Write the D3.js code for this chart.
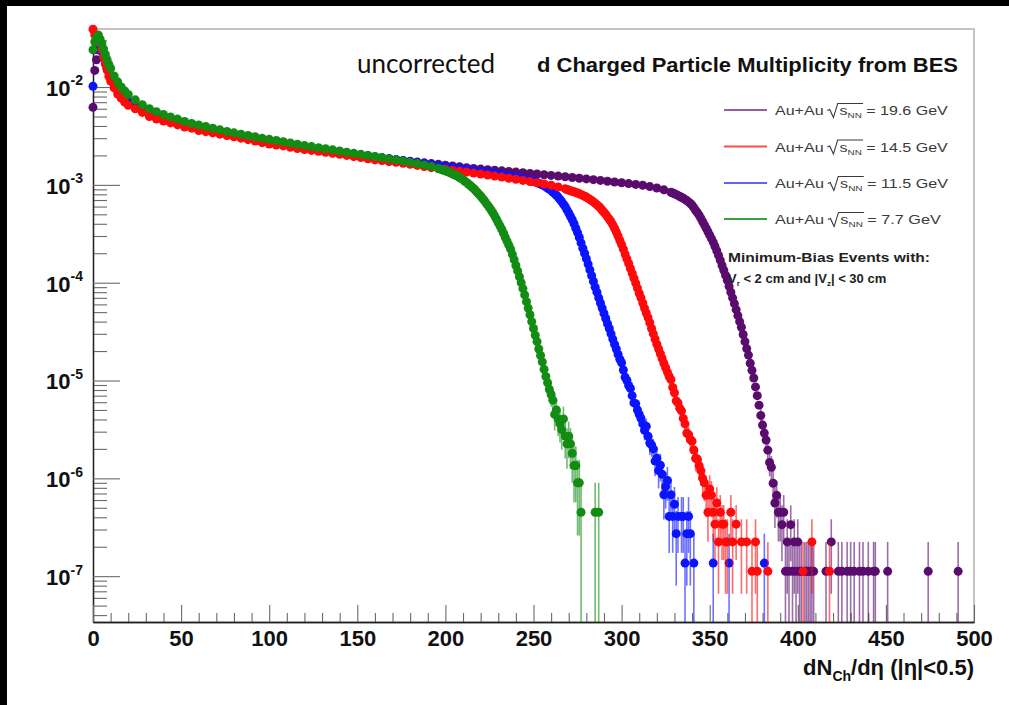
<!DOCTYPE html>
<html>
<head>
<meta charset="utf-8">
<script src="https://cdn.jsdelivr.net/npm/d3@7"></script>
<style>
  html, body { margin: 0; padding: 0; background: #000; }
  svg { display: block; }
</style>
</head>
<body>
<svg id="chart" width="1009" height="705"></svg>
<script>
// ---------------- data ----------------
const xMajorTicks = [0, 50, 100, 150, 200, 250, 300, 350, 400, 450, 500];
const yDecades = [1e-7, 1e-6, 1e-5, 1e-4, 1e-3, 1e-2];
const energies = ["19.6", "14.5", "11.5", "7.7"];

// Au+Au 19.6 GeV : coarse bins over the plateau, unit bins over the fall-off, low-count tail with errors
const purpleX = [0,1,2,3,4,6,8,10,12,14,16,20,24,28,32,36,40,44,48,52,56,60,64,68,72,76,80,84,88,92,96,100,104,108,112,116,120,124,128,132,136,140,144,148,152,156,160,164,168,172,176,180,184,188,192,196,200,204,208,212,216,220,224,228,232,236,240,244,248,252,256,260,264,268,272,276,280,284,288,292,296,300,304,308,312,316,320,324,328];
const purpleY = [6.2e-3,1.48e-2,1.9e-2,2.4e-2,2.4e-2,2.0e-2,1.55e-2,1.25e-2,1.07e-2,9.4e-3,8.5e-3,7.2e-3,6.4e-3,5.8e-3,5.4e-3,5.0e-3,4.75e-3,4.5e-3,4.3e-3,4.1e-3,3.95e-3,3.8e-3,3.65e-3,3.55e-3,3.45e-3,3.35e-3,3.25e-3,3.15e-3,3.05e-3,2.96e-3,2.88e-3,2.8e-3,2.72e-3,2.65e-3,2.58e-3,2.5e-3,2.44e-3,2.38e-3,2.32e-3,2.27e-3,2.22e-3,2.17e-3,2.12e-3,2.07e-3,2.02e-3,1.98e-3,1.93e-3,1.89e-3,1.85e-3,1.81e-3,1.77e-3,1.74e-3,1.71e-3,1.68e-3,1.65e-3,1.62e-3,1.59e-3,1.56e-3,1.53e-3,1.5e-3,1.47e-3,1.45e-3,1.43e-3,1.41e-3,1.39e-3,1.37e-3,1.35e-3,1.33e-3,1.31e-3,1.29e-3,1.27e-3,1.25e-3,1.23e-3,1.21e-3,1.19e-3,1.17e-3,1.15e-3,1.13e-3,1.11e-3,1.09e-3,1.07e-3,1.05e-3,1.03e-3,1.01e-3,9.9e-4,9.6e-4,9.3e-4,8.9e-4,8.4e-4];
const purpleFallStart = 329;
const purpleFall = [8.25e-4,8.1e-4,7.95e-4,7.8e-4,7.6e-4,7.45e-4,7.3e-4,7.1e-4,6.9e-4,6.7e-4,6.45e-4,6.2e-4,5.85e-4,5.5e-4,5.2e-4,4.9e-4,4.55e-4,4.2e-4,3.9e-4,3.6e-4,3.32e-4,3.06e-4,2.82e-4,2.6e-4,2.35e-4,2.12e-4,1.9e-4,1.7e-4,1.5e-4,1.34e-4,1.19e-4,1.06e-4,9.2e-5,8.0e-5,7.0e-5,6.1e-5,5.3e-5,4.6e-5,4.0e-5,3.5e-5,2.95e-5,2.5e-5,2.12e-5,1.82e-5,1.5e-5,1.27e-5,1.06e-5,8.6e-6,7.0e-6,5.6e-6];
const purpleTailX = [379,380,381,382,383,384,385,386,387,388,389,390,391,392,393,394,395,396,397,398,399,400,401,402,404,405,406,407,408,409,416,419,423,425,428,430,432,435,437,440,443,444,451,474,491];
const purpleTailY = [4.4e-6,3.5e-6,2.9e-6,2.46e-6,1.94e-6,1.45e-6,1.3e-6,8.9e-7,5.6e-7,6.7e-7,4.5e-7,4.5e-7,3.36e-7,4.5e-7,1.12e-7,2.24e-7,1.12e-7,3.36e-7,1.12e-7,2.24e-7,1.12e-7,2.24e-7,1.12e-7,1.12e-7,1.12e-7,1.12e-7,1.12e-7,1.12e-7,1.12e-7,1.12e-7,1.12e-7,2.24e-7,1.12e-7,1.12e-7,1.12e-7,1.12e-7,1.12e-7,1.12e-7,1.12e-7,1.12e-7,1.12e-7,1.12e-7,1.12e-7,1.12e-7,1.12e-7];
const purpleTailErr = [7.0e-7,6.3e-7,5.7e-7,5.2e-7,4.6e-7,4.0e-7,3.9e-7,3.2e-7,2.5e-7,2.74e-7,2.24e-7,2.24e-7,1.94e-7,2.24e-7,1.12e-7,1.58e-7,1.12e-7,1.94e-7,1.12e-7,1.58e-7,1.12e-7,1.58e-7,1.12e-7,1.12e-7,1.12e-7,1.12e-7,1.12e-7,1.12e-7,1.12e-7,1.12e-7,1.12e-7,1.58e-7,1.12e-7,1.12e-7,1.12e-7,1.12e-7,1.12e-7,1.12e-7,1.12e-7,1.12e-7,1.12e-7,1.12e-7,1.12e-7,1.12e-7,1.12e-7];

// Au+Au 14.5 GeV
const redX = [0,1,2,3,4,5,6,7,8,9,10,12,14,16,18,20,24,28,32,36,40,44,48,52,56,60,64,68,72,76,80,84,88,92,96,100,104,108,112,116,120,124,128,132,136,140,144,148,152,156,160,164,168,172,176,180,184,188,192,196,200,204,208,212,216,220,224,228,232,236,240,244,248,252,256,260,264,268];
const redY = [3.9e-2,3.4e-2,3.2e-2,3.0e-2,2.8e-2,2.4e-2,2.03e-2,1.72e-2,1.49e-2,1.29e-2,1.15e-2,9.8e-3,8.5e-3,7.7e-3,7.0e-3,6.5e-3,6.0e-3,5.5e-3,5.0e-3,4.7e-3,4.5e-3,4.3e-3,4.1e-3,3.9e-3,3.8e-3,3.6e-3,3.5e-3,3.4e-3,3.3e-3,3.2e-3,3.1e-3,3.0e-3,2.9e-3,2.8e-3,2.7e-3,2.62e-3,2.55e-3,2.5e-3,2.42e-3,2.35e-3,2.3e-3,2.25e-3,2.2e-3,2.15e-3,2.1e-3,2.05e-3,2.0e-3,1.95e-3,1.9e-3,1.85e-3,1.8e-3,1.77e-3,1.73e-3,1.7e-3,1.66e-3,1.62e-3,1.58e-3,1.54e-3,1.5e-3,1.47e-3,1.44e-3,1.41e-3,1.38e-3,1.35e-3,1.32e-3,1.29e-3,1.26e-3,1.23e-3,1.2e-3,1.17e-3,1.14e-3,1.11e-3,1.08e-3,1.05e-3,1.02e-3,9.9e-4,9.5e-4,9.1e-4];
const redFallStart = 269;
const redFall = [8.95e-4,8.85e-4,8.7e-4,8.6e-4,8.5e-4,8.35e-4,8.25e-4,8.1e-4,7.95e-4,7.8e-4,7.65e-4,7.5e-4,7.3e-4,7.1e-4,6.9e-4,6.7e-4,6.5e-4,6.25e-4,6.05e-4,5.8e-4,5.5e-4,5.25e-4,5.0e-4,4.7e-4,4.45e-4,4.2e-4,3.9e-4,3.6e-4,3.3e-4,3.0e-4,2.7e-4,2.45e-4,2.2e-4,1.95e-4,1.75e-4,1.57e-4,1.4e-4,1.25e-4,1.11e-4,9.9e-5,8.8e-5,7.8e-5,7.0e-5,6.2e-5,5.5e-5,4.9e-5,4.4e-5,3.9e-5,3.4e-5,3.0e-5,2.65e-5,2.35e-5,2.1e-5,1.88e-5,1.68e-5,1.5e-5,1.35e-5,1.22e-5,1.1e-5,1.02e-5,8.5e-6,7.5e-6,6.2e-6,5.9e-6,5.2e-6];
const redTailX = [334,335,336,337,338,339,340,341,342,343,344,345,346,347,348,349,350,351,352,353,354,355,356,357,358,359,360,362,363,365,368,371,374,376,377,383,403,408,418];
const redTailY = [4.9e-6,4.1e-6,3.6e-6,2.9e-6,2.8e-6,2.5e-6,2.4e-6,1.95e-6,1.6e-6,1.57e-6,1.35e-6,1.2e-6,1.0e-6,9.0e-7,6.7e-7,4.5e-7,7.8e-7,6.7e-7,4.5e-7,3.4e-7,5.6e-7,2.24e-7,4.5e-7,3.4e-7,3.4e-7,2.24e-7,2.24e-7,4.5e-7,2.24e-7,3.4e-7,2.24e-7,2.24e-7,1.12e-7,2.24e-7,1.12e-7,1.12e-7,1.12e-7,2.24e-7,1.12e-7];
const redTailErr = [7.4e-7,6.7e-7,6.4e-7,5.7e-7,5.6e-7,5.3e-7,5.2e-7,4.6e-7,4.2e-7,4.2e-7,3.9e-7,3.6e-7,3.4e-7,3.2e-7,2.7e-7,2.25e-7,2.96e-7,2.7e-7,2.25e-7,1.94e-7,2.5e-7,1.58e-7,2.24e-7,1.94e-7,1.94e-7,1.58e-7,1.58e-7,2.24e-7,1.58e-7,1.94e-7,1.58e-7,1.58e-7,1.12e-7,1.58e-7,1.12e-7,1.12e-7,1.12e-7,1.58e-7,1.12e-7];

// Au+Au 11.5 GeV
const blueX = [0,1,2,3,4,5,6,8,10,12,14,16,20,24,28,32,36,40,44,48,52,56,60,64,68,72,76,80,84,88,92,96,100,104,108,112,116,120,124,128,132,136,140,144,148,152,156,160,164,168,172,176,180,184,188,192,196,200,204,208,212,216,220,224,228,232,236,240,244,248];
const blueY = [1.02e-2,2.4e-2,2.9e-2,2.9e-2,2.6e-2,2.3e-2,2.0e-2,1.55e-2,1.25e-2,1.06e-2,9.3e-3,8.4e-3,7.1e-3,6.4e-3,5.8e-3,5.4e-3,5.0e-3,4.75e-3,4.5e-3,4.3e-3,4.1e-3,3.95e-3,3.8e-3,3.65e-3,3.55e-3,3.45e-3,3.35e-3,3.25e-3,3.15e-3,3.05e-3,2.96e-3,2.88e-3,2.8e-3,2.72e-3,2.65e-3,2.58e-3,2.5e-3,2.44e-3,2.38e-3,2.32e-3,2.27e-3,2.22e-3,2.17e-3,2.12e-3,2.07e-3,2.02e-3,1.98e-3,1.93e-3,1.89e-3,1.85e-3,1.81e-3,1.77e-3,1.73e-3,1.69e-3,1.65e-3,1.61e-3,1.57e-3,1.54e-3,1.5e-3,1.47e-3,1.44e-3,1.41e-3,1.38e-3,1.35e-3,1.32e-3,1.29e-3,1.25e-3,1.21e-3,1.17e-3,1.12e-3];
const blueFallStart = 249;
const blueFall = [1.1e-3,1.09e-3,1.075e-3,1.06e-3,1.04e-3,1.02e-3,1.0e-3,9.8e-4,9.55e-4,9.3e-4,9.05e-4,8.8e-4,8.45e-4,8.15e-4,7.8e-4,7.5e-4,7.1e-4,6.75e-4,6.35e-4,6.0e-4,5.55e-4,5.15e-4,4.75e-4,4.4e-4,4.0e-4,3.6e-4,3.25e-4,2.9e-4,2.55e-4,2.25e-4,2.0e-4,1.76e-4,1.55e-4,1.35e-4,1.18e-4,1.03e-4,9.0e-5,8.0e-5,7.0e-5,6.2e-5,5.5e-5,4.85e-5,4.3e-5,3.8e-5,3.4e-5,3.0e-5,2.65e-5,2.35e-5,2.1e-5,1.85e-5,1.65e-5,1.52e-5,1.28e-5,1.08e-5,1.0e-5,8.9e-6,8.3e-6,7.0e-6,5.9e-6,5.8e-6,5.0e-6];
const blueTailX = [310,311,312,313,314,315,316,317,318,319,320,321,322,323,324,325,326,327,328,329,330,331,332,334,335,336,337,338,339,341,352,361,381];
const blueTailY = [4.5e-6,4.1e-6,3.6e-6,3.1e-6,3.4e-6,2.7e-6,2.3e-6,2.2e-6,2.0e-6,1.5e-6,1.6e-6,1.2e-6,1.36e-6,1.1e-6,6.8e-7,8.2e-7,9.5e-7,4.08e-7,6.8e-7,4.08e-7,5.44e-7,2.72e-7,4.08e-7,4.08e-7,4.08e-7,1.36e-7,2.72e-7,4.08e-7,2.72e-7,1.36e-7,1.36e-7,1.36e-7,1.36e-7];
const blueTailErr = [7.8e-7,7.4e-7,7.1e-7,6.5e-7,6.8e-7,6.1e-7,5.6e-7,5.4e-7,5.2e-7,4.5e-7,4.7e-7,4.1e-7,4.3e-7,3.8e-7,3.0e-7,3.3e-7,3.6e-7,2.35e-7,3.0e-7,2.35e-7,2.72e-7,1.92e-7,2.35e-7,2.35e-7,2.35e-7,1.36e-7,1.92e-7,2.35e-7,1.92e-7,1.36e-7,1.36e-7,1.36e-7,1.36e-7];

// Au+Au 7.7 GeV
const greenX = [0,1,2,3,4,5,6,7,8,9,10,12,14,16,18,20,24,28,32,36,40,44,48,52,56,60,64,68,72,76,80,84,88,92,96,100,104,108,112,116,120,124,128,132,136,140,144,148,152,156,160,164,168,172,176,180,184,188,192,196];
const greenY = [2.4e-2,2.9e-2,3.2e-2,3.4e-2,3.1e-2,2.8e-2,2.45e-2,2.15e-2,1.9e-2,1.7e-2,1.55e-2,1.3e-2,1.13e-2,1.0e-2,9.1e-3,8.4e-3,7.4e-3,6.6e-3,6.0e-3,5.6e-3,5.25e-3,4.95e-3,4.7e-3,4.45e-3,4.25e-3,4.1e-3,3.95e-3,3.8e-3,3.65e-3,3.52e-3,3.4e-3,3.3e-3,3.2e-3,3.1e-3,3.0e-3,2.92e-3,2.84e-3,2.76e-3,2.68e-3,2.6e-3,2.53e-3,2.46e-3,2.4e-3,2.34e-3,2.28e-3,2.22e-3,2.16e-3,2.1e-3,2.05e-3,2.0e-3,1.95e-3,1.9e-3,1.85e-3,1.8e-3,1.75e-3,1.7e-3,1.65e-3,1.6e-3,1.54e-3,1.47e-3];
const greenFallStart = 197;
const greenFall = [1.45e-3,1.43e-3,1.41e-3,1.39e-3,1.37e-3,1.35e-3,1.32e-3,1.3e-3,1.27e-3,1.25e-3,1.22e-3,1.19e-3,1.16e-3,1.13e-3,1.09e-3,1.06e-3,1.02e-3,9.9e-4,9.5e-4,9.2e-4,8.8e-4,8.4e-4,8.05e-4,7.7e-4,7.3e-4,6.95e-4,6.55e-4,6.2e-4,5.85e-4,5.5e-4,5.15e-4,4.8e-4,4.45e-4,4.1e-4,3.8e-4,3.5e-4,3.2e-4,2.9e-4,2.65e-4,2.42e-4,2.2e-4,1.95e-4,1.72e-4,1.5e-4,1.32e-4,1.15e-4,1.0e-4,8.7e-5,7.5e-5,6.4e-5,5.5e-5,4.7e-5,4.0e-5,3.4e-5,2.9e-5,2.5e-5,2.1e-5,1.8e-5,1.55e-5,1.3e-5,1.1e-5,9.5e-6];
const greenTailX = [259,260,261,262,263,264,265,266,267,268,269,270,271,272,273,274,275,276,277,285,287];
const greenTailY = [8.1e-6,7.2e-6,6.3e-6,4.5e-6,5.0e-6,4.05e-6,3.6e-6,3.15e-6,4.05e-6,2.7e-6,2.25e-6,2.7e-6,2.25e-6,1.8e-6,1.35e-6,1.35e-6,9.0e-7,9.0e-7,4.5e-7,4.5e-7,4.5e-7];
const greenTailErr = [1.9e-6,1.8e-6,1.68e-6,1.42e-6,1.49e-6,1.35e-6,1.27e-6,1.19e-6,1.35e-6,1.1e-6,1.0e-6,1.1e-6,1.0e-6,9.0e-7,7.8e-7,7.8e-7,6.4e-7,6.4e-7,4.5e-7,4.5e-7,4.5e-7];

// ---------------- layout ----------------
const W = 1009, H = 705;
const frame = { left: 93, right: 974, top: 29, bottom: 622 };
const colors = { purple: "#5a0c6e", red: "#ff0a0a", blue: "#0a14ff", green: "#138c13" };
const FONT = "'Liberation Sans', Arial, Helvetica, sans-serif";

const svg = d3.select("#chart");
svg.append("rect").attr("width", W).attr("height", H).attr("fill", "#000");
svg.append("rect").attr("x", 7).attr("y", 6).attr("width", W - 7).attr("height", H - 6).attr("fill", "#fff");

const x = d3.scaleLinear().domain([0, 500]).range([frame.left, frame.right]);
const y = d3.scaleLog().domain([3.4e-8, 0.0392]).range([frame.bottom, frame.top]);
const yMin = y.domain()[0];

// frame: top and right edges
svg.append("path")
  .attr("d", `M${frame.left},${frame.top}H${frame.right}V${frame.bottom}`)
  .attr("fill", "none").attr("stroke", "#c4c4c4").attr("stroke-width", 2);

// ---------------- axes ----------------
const yMinor = [];
yDecades.concat([1e-8]).forEach(d => {
  for (let k = 2; k <= 9; k++) {
    const v = d * k;
    if (v > yMin && v < y.domain()[1]) yMinor.push(v);
  }
});
const xMinor = d3.range(0, 501, 10).filter(v => v % 50 !== 0);

const yMinorG = svg.append("g").attr("transform", `translate(${frame.left},0)`)
  .call(d3.axisLeft(y).tickValues(yMinor).tickSizeInner(-14).tickSizeOuter(0).tickFormat(""));
const yMajorG = svg.append("g").attr("transform", `translate(${frame.left},0)`)
  .call(d3.axisLeft(y).tickValues(yDecades).tickSizeInner(-27).tickSizeOuter(0).tickPadding(10).tickFormat(""));
const xMinorG = svg.append("g").attr("transform", `translate(0,${frame.bottom})`)
  .call(d3.axisBottom(x).tickValues(xMinor).tickSizeInner(-9).tickSizeOuter(0).tickFormat(""));
const xMajorG = svg.append("g").attr("transform", `translate(0,${frame.bottom})`)
  .call(d3.axisBottom(x).tickValues(xMajorTicks).tickSizeInner(-17).tickSizeOuter(0).tickPadding(8).tickFormat(d3.format("d")));

[yMinorG, yMajorG, xMinorG, xMajorG].forEach(g => {
  g.selectAll(".tick line").attr("stroke", "#6a6a6a").attr("stroke-width", 1.1);
  g.select(".domain").attr("stroke", "#222").attr("stroke-width", 1.3);
});

xMajorG.selectAll(".tick text")
  .attr("font-family", FONT).attr("font-weight", "bold").attr("font-size", 22).attr("fill", "#111");

yMajorG.selectAll(".tick text").each(function (d) {
  const t = d3.select(this)
    .attr("font-family", FONT).attr("font-weight", "bold").attr("font-size", 22).attr("fill", "#111")
    .attr("dy", "0.38em");
  t.text(null);
  t.append("tspan").text("10");
  t.append("tspan").attr("font-size", 14).attr("dy", "-0.75em").text(String(Math.round(Math.log10(d))));
});

// x-axis title
const xt = svg.append("text")
  .attr("x", frame.right).attr("y", 675).attr("text-anchor", "end")
  .attr("font-family", FONT).attr("font-weight", "bold").attr("font-size", 22).attr("fill", "#111");
xt.append("tspan").text("dN");
xt.append("tspan").attr("font-size", 14).attr("dy", 6).text("Ch");
xt.append("tspan").attr("dy", -6).text("/d\u03B7 (|\u03B7|<0.5)");

// ---------------- titles ----------------
svg.append("text").attr("x", 357).attr("y", 73)
  .attr("font-family", "Lato, 'Open Sans', sans-serif").attr("font-size", 26).attr("fill", "#111")
  .text("uncorrected");
svg.append("text").attr("x", 537).attr("y", 72)
  .attr("font-family", FONT).attr("font-weight", "bold")
  .attr("font-size", 21).attr("fill", "#111")
  .attr("textLength", 421).attr("lengthAdjust", "spacingAndGlyphs")
  .text("d Charged Particle Multiplicity from BES");

// ---------------- data marks ----------------
const plotG = svg.append("g");
const R = 4.5;

function drawSeries(bx, by, fallStart, fall, tx, ty, te, color) {
  const g = plotG.append("g");
  const tail = d3.range(Math.min(tx.length, ty.length, te.length));
  // vertical error bars of the low-count tail, clipped at the frame
  g.selectAll("line").data(tail).join("line")
    .attr("x1", i => x(tx[i])).attr("x2", i => x(tx[i]))
    .attr("y1", i => Math.max(frame.top, y(ty[i] + te[i])))
    .attr("y2", i => (ty[i] - te[i] > yMin ? y(ty[i] - te[i]) : frame.bottom))
    .attr("stroke", color).attr("stroke-width", 1.6).attr("stroke-opacity", 0.6);
  const pts = [];
  d3.range(Math.min(bx.length, by.length)).forEach(i => pts.push([bx[i], by[i]]));
  fall.forEach((v, i) => pts.push([fallStart + i, v]));
  tail.forEach(i => pts.push([tx[i], ty[i]]));
  g.selectAll("circle").data(pts).join("circle")
    .attr("cx", d => x(d[0])).attr("cy", d => y(d[1])).attr("r", R)
    .attr("fill", color);
}

drawSeries(purpleX, purpleY, purpleFallStart, purpleFall, purpleTailX, purpleTailY, purpleTailErr, colors.purple);
drawSeries(blueX, blueY, blueFallStart, blueFall, blueTailX, blueTailY, blueTailErr, colors.blue);
drawSeries(redX, redY, redFallStart, redFall, redTailX, redTailY, redTailErr, colors.red);
drawSeries(greenX, greenY, greenFallStart, greenFall, greenTailX, greenTailY, greenTailErr, colors.green);

// ---------------- legend ----------------
const legendRows = [110, 146.5, 183, 219];
const legendLine = ["#9a5aa6", "#ff4a4a", "#5a64ff", "#3aa03a"];
energies.forEach((e, i) => {
  const yy = legendRows[i];
  svg.append("line").attr("x1", 724).attr("x2", 767).attr("y1", yy).attr("y2", yy)
    .attr("stroke", legendLine[i]).attr("stroke-width", 2.2);
  const g = svg.append("g");
  const t = g.append("text")
    .attr("font-family", FONT).attr("font-size", 13).attr("fill", "#3a3a3a");
  t.append("tspan").text("Au+Au");
  t.append("tspan").attr("dx", 13).text("s");
  t.append("tspan").attr("font-size", 8).attr("dy", 3).text("NN");
  t.append("tspan").attr("dy", -3).text(" = " + e + " GeV");
  const node = t.node();
  const natural = node.getComputedTextLength() + 13;
  const target = e.length === 3 ? 166 : 173;
  g.attr("transform", `translate(775,${yy + 5}) scale(${target / natural},1)`);
  const r0 = node.getEndPositionOfChar(4).x + 3;
  const nnEnd = node.getEndPositionOfChar(7).x + 1;
  g.append("path")
    .attr("d", `M${r0},-4.5L${r0 + 2},-5.5L${r0 + 5},2.5L${r0 + 8.5},-11.5H${nnEnd}`)
    .attr("fill", "none").attr("stroke", "#3a3a3a").attr("stroke-width", 0.9);
});

const note = svg.append("g")
  .attr("font-family", FONT).attr("font-weight", "bold")
  .attr("font-size", 13).attr("fill", "#222");
note.append("text").attr("x", 728).attr("y", 262)
  .attr("textLength", 202).attr("lengthAdjust", "spacingAndGlyphs")
  .text("Minimum-Bias Events with:");
const n2 = note.append("text").attr("x", 728).attr("y", 283);
n2.append("tspan").text("V");
n2.append("tspan").attr("font-size", 8).attr("dy", 3).text("r");
n2.append("tspan").attr("dy", -3).text(" < 2 cm and |V");
n2.append("tspan").attr("font-size", 8).attr("dy", 3).text("z");
n2.append("tspan").attr("dy", -3).text("| < 30 cm");
</script>
</body>
</html>
